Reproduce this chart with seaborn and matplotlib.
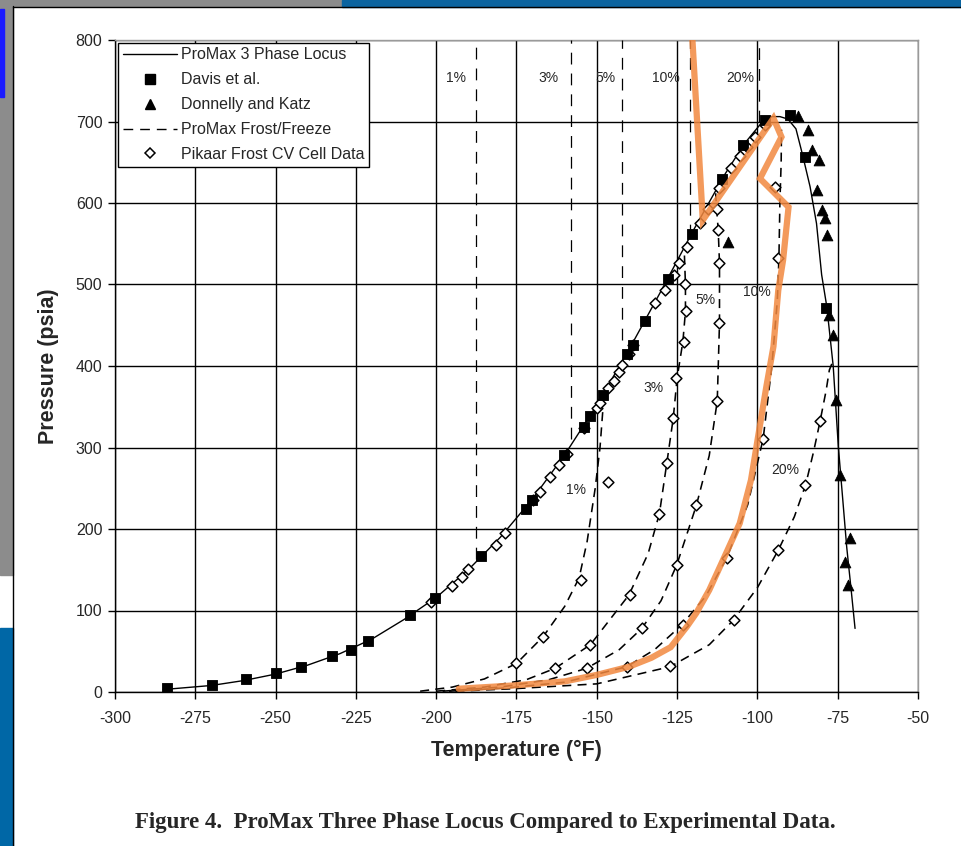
import matplotlib
matplotlib.use("Agg")
import matplotlib.pyplot as plt
from matplotlib.lines import Line2D
from matplotlib.patches import Rectangle
import seaborn as sns

# ProMax 3 phase locus (solid line)
locus_t = [-285, -270, -260, -250, -240, -230, -220, -210, -200, -190, -180, -170, -160,
           -150, -140, -130, -120, -110, -104, -99, -95.5, -93, -90.5, -88, -86, -83.6,
           -81.6, -80, -78.4, -76.4, -74.8, -73.4, -72.2, -70.8, -69.6]
locus_p = [3, 8, 14, 22, 33, 47, 65, 89, 116, 150, 190, 237, 291,
           352, 420, 492, 566, 636, 673, 697, 706, 706, 703, 691, 660, 620,
           575, 512, 473, 400, 301, 235, 178, 125, 78]

# Davis et al. (squares)
davis_t = [-283.9, -269.7, -259.2, -250.0, -242.2, -232.5, -226.5, -221.3, -208.2, -200.4,
           -186.2, -172.1, -170.1, -160.2, -154.0, -152.1, -148.2, -140.7, -138.8, -135.1,
           -127.7, -120.5, -111.1, -104.4, -97.6, -89.9, -85.2, -78.5]
davis_p = [4.5, 8.6, 15.6, 22.9, 31.1, 44.2, 51.9, 62.6, 94.1, 115.7,
           166.9, 224.5, 235.6, 290.8, 324.8, 338.7, 364.4, 414.7, 425.8, 455,
           507, 562, 629, 671, 702, 708, 657, 471]

# Donnelly and Katz (triangles)
dk_t = [-87.3, -84.2, -83.1, -80.8, -81.5, -79.8, -79.0, -78.2, -109.3, -77.6,
        -76.6, -75.5, -74.3, -71.2, -72.7, -71.7]
dk_p = [707, 690, 665, 653, 616, 591, 582, 561, 552, 463,
        438, 358, 266, 189, 159, 131]

# Pikaar frost CV cell data (open diamonds)
pikaar_t = [-201.6, -195.2, -192.1, -190, -181.4, -178.6, -169.8, -167.7, -164.6, -161.8,
            -159.4, -154, -150, -149, -146.4, -144.8, -143.1, -142, -139.9, -138.6,
            -131.9, -128.8, -126, -124.3, -122, -117.9, -115.3, -112, -108.3, -105.5,
            -103.3, -100.7, -97.6,
            -175, -166.7, -155, -146.4,
            -163, -152.1, -139.7, -130.5, -128.2, -126.2, -125.3, -123, -122.3, -122.5,
            -153.2, -136, -125.1, -119.1, -112.5, -111.8, -111.8, -112.2, -112.7,
            -140.5, -123.3, -109.6, -98.2, -93.5, -94.5,
            -127.2, -107.3, -93.5, -85.2, -80.5]
pikaar_p = [110, 130, 141, 151, 180, 195, 236, 246, 264, 278,
            292, 324, 348, 354, 373, 382, 393, 401, 415, 426,
            477, 493, 512, 526, 546, 575, 593, 618, 643, 658,
            669, 681, 696,
            35, 68, 137, 258,
            29, 58, 119, 219, 281, 336, 385, 430, 467, 500,
            29, 78, 156, 229, 357, 453, 526, 567, 593,
            31, 82, 164, 311, 532, 620,
            32, 88, 174, 254, 332]

# ProMax frost/freeze curves (dashed), below the locus
frost_labels = ["1%", "3%", "5%", "10%", "20%"]
frost_t = [
    [-205, -195, -185, -175, -166.7, -160, -155.5, -153, -150.5, -149, -148],
    [-200, -185, -172, -163, -152, -140, -134, -130.5, -128.2, -126.2, -125, -123.2, -122.4, -122.4, -122.8],
    [-198, -180, -165, -153.2, -143, -136, -130, -125.1, -119, -115, -112.5, -111.8, -111.8, -112.2, -112.7, -113],
    [-196, -178, -160, -140.7, -132, -123.6, -116, -109.6, -103, -98.2, -95.5, -93.8, -93.3, -93, -92.6, -92.5],
    [-194, -176, -150, -127.2, -115, -107.5, -100, -93.5, -88.5, -85, -82.5, -80.5, -78.6, -77.6, -76.6],
]
frost_p = [
    [1, 6, 16, 35, 68, 105, 140, 185, 250, 300, 352],
    [1, 6, 15, 29, 58, 119, 170, 219, 281, 336, 385, 430, 467, 500, 545],
    [1, 6, 15, 29, 52, 78, 112, 156, 229, 290, 357, 453, 526, 567, 593, 612],
    [1, 5, 12, 31, 52, 82, 118, 164, 230, 311, 400, 480, 532, 600, 650, 690],
    [1, 4, 10, 31, 58, 88, 128, 174, 215, 254, 295, 332, 370, 395, 405],
]
# vertical freeze lines above the locus
freeze_t = [-187.6, -158.0, -142.3, -121.0, -99.4]
freeze_p_low = [163, 310, 432, 560, 700]

# label positions (temperature, pressure)
top_label_t = [-193.8, -164.9, -147.4, -128.5, -105.4]
low_label_t = [-156.5, -132.5, -116.3, -100.1, -91.4]
low_label_p = [248, 373, 481, 491, 272]

# orange hand-drawn overlay
orange_t = [-193, -176, -160, -150, -140, -133, -127, -122, -119, -115, -110, -105.5,
            -102, -99.3, -97.2, -95, -93.5, -92, -90.3, -99.2, -92.5, -95, -117, -120.3]
orange_p = [4, 8, 13, 21, 31, 42, 55, 80, 97, 125, 168, 207,
            260, 325, 375, 424, 493, 530, 595, 630, 681, 704, 579, 805]

sns.set_style("white")
plt.rcParams["font.family"] = ["Liberation Sans", "DejaVu Sans"]
plt.rcParams["lines.scale_dashes"] = False
plt.rcParams["axes.unicode_minus"] = False

W, H = 961, 846
fig = plt.figure(figsize=(W / 100, H / 100), dpi=100)


def px_rect(x0, y0, x1, y1, color):
    fig.patches.append(Rectangle((x0 / W, 1 - y1 / H), (x1 - x0) / W, (y1 - y0) / H,
                                 transform=fig.transFigure, color=color, zorder=-5))


# screenshot surroundings
px_rect(0, 0, 13, 575, "#8c8c8c")
px_rect(0, 9, 4, 97, "#1a1aff")
px_rect(0, 628, 13, 846, "#0067a6")
px_rect(0, 0, 342, 6, "#8c8c8c")
px_rect(342, 0, 961, 7, "#0a64a0")
fig.add_artist(Line2D([13 / W, 13 / W], [0, 1 - 6 / H], transform=fig.transFigure, color="black", lw=1))
fig.add_artist(Line2D([13 / W, 1], [1 - 7 / H, 1 - 7 / H], transform=fig.transFigure, color="black", lw=1))

ax = fig.add_axes([115 / W, 1 - 692 / H, (918 - 115) / W, (692 - 40) / H])

# freeze lines above the locus
for t, p0 in zip(freeze_t, freeze_p_low):
    sns.lineplot(x=[t, t], y=[p0, 800], ax=ax, color="black", lw=0.9,
                 linestyle=(0, (8.5, 6.5)), sort=False, estimator=None, zorder=3)

# frost curves
for t, p in zip(frost_t, frost_p):
    sns.lineplot(x=t, y=p, ax=ax, color="black", lw=1.15,
                 linestyle=(0, (6.5, 4.5)), sort=False, estimator=None, zorder=3)

# 3 phase locus
sns.lineplot(x=locus_t, y=locus_p, ax=ax, color="black", lw=1.0, sort=False,
             estimator=None, zorder=4)

sns.scatterplot(x=pikaar_t, y=pikaar_p, ax=ax, marker="D", s=30, facecolor="white",
                edgecolor="black", linewidth=1.1, zorder=5)
sns.scatterplot(x=davis_t, y=davis_p, ax=ax, marker="s", s=60, color="black",
                edgecolor="black", zorder=6)
sns.scatterplot(x=dk_t, y=dk_p, ax=ax, marker="^", s=60, color="black",
                edgecolor="black", zorder=6)

sns.lineplot(x=orange_t, y=orange_p, ax=ax, color="#f2883f", lw=4.5, alpha=0.85,
             sort=False, estimator=None, zorder=7, solid_joinstyle="miter")

for lab, t in zip(frost_labels, top_label_t):
    ax.text(t, 753, lab, fontsize=10, ha="center", va="center", zorder=8)
for lab, t, p in zip(frost_labels, low_label_t, low_label_p):
    ax.text(t, p, lab, fontsize=10, ha="center", va="center", zorder=8)

ax.set_xlim(-300, -50)
ax.set_ylim(0, 800)
ax.set_xticks(range(-300, -49, 25))
ax.set_yticks(range(0, 801, 100))
ax.grid(True, color="black", lw=1.0)
ax.set_axisbelow(True)
ax.tick_params(direction="out", length=5, width=1, labelsize=11.5, color="black",
               bottom=True, left=True, pad=4)
ax.tick_params(axis="x", pad=9)
for side in ["left", "bottom"]:
    ax.spines[side].set_color("black")
    ax.spines[side].set_linewidth(1)
for side in ["top", "right"]:
    ax.spines[side].set_color("#9a9a9a")
    ax.spines[side].set_linewidth(1)

ax.set_xlabel("Temperature (°F)", fontsize=15.5, fontweight="bold")
ax.set_ylabel("Pressure (psia)", fontsize=15.5, fontweight="bold")
ax.xaxis.set_label_coords(0.5, -0.073)
ax.yaxis.set_label_coords(-0.07, 0.5)

handles = [
    Line2D([], [], color="black", lw=1),
    Line2D([], [], color="black", marker="s", ls="none", markersize=7.5),
    Line2D([], [], color="black", marker="^", ls="none", markersize=7.5),
    Line2D([], [], color="black", lw=1, ls=(0, (7, 5))),
    Line2D([], [], color="black", marker="D", ls="none", markersize=5.5,
           markerfacecolor="white", markeredgewidth=1.1),
]
names = ["ProMax 3 Phase Locus", "Davis et al.", "Donnelly and Katz",
         "ProMax Frost/Freeze", "Pikaar Frost CV Cell Data"]
leg = ax.legend(handles, names, loc="upper left", bbox_to_anchor=(0.004, 0.996),
                fontsize=11.5, handlelength=3.4, labelspacing=0.62, borderpad=0.3,
                handletextpad=0.2, fancybox=False, framealpha=1, edgecolor="black",
                borderaxespad=0)
leg.get_frame().set_linewidth(1)
leg.set_zorder(10)

fig.text(0.505, 1 - 822 / H,
         "Figure 4.  ProMax Three Phase Locus Compared to Experimental Data.",
         ha="center", va="center", fontsize=16.5, fontweight="bold",
         family=["Liberation Serif", "DejaVu Serif"])

fig.savefig("out.png", dpi=100, facecolor="white")
